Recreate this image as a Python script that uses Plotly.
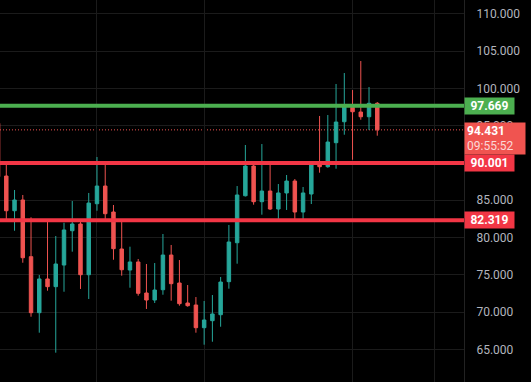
import plotly.graph_objects as go

# ---- data ----
idx = list(range(-1, 46))
opens = [95.31, 88.24, 83.59, 85.03, 77.43, 69.92, 74.44, 73.41, 76.31, 80.91, 81.81,
         75.01, 84.53, 86.90, 83.42, 78.46, 75.64, 76.72, 72.56, 71.62, 73.00,
         77.65, 73.90, 71.22, 70.95, 67.91, 68.85, 69.65, 74.08, 79.30, 85.60,
         89.58, 84.80, 86.23, 83.82, 85.97, 87.57, 83.42, 85.83, 89.95, 89.49,
         92.71, 95.52, 97.45, 96.82, 96.19, 97.99]
highs = [95.31, 89.95, 86.37, 85.70, 82.71, 74.97, 82.48, 80.20, 81.98, 84.89, 82.35,
         85.97, 90.79, 89.95, 84.36, 82.25, 78.77, 77.12, 76.45, 76.58, 80.47,
         79.00, 76.98, 73.63, 72.02, 71.49, 72.29, 74.71, 81.68, 86.90, 92.40,
         89.95, 92.53, 89.81, 87.17, 88.38, 87.84, 86.77, 90.03, 96.29, 96.42,
         100.58, 102.05, 99.77, 103.66, 100.17, 98.16]
lows = [88.15, 82.35, 80.91, 76.62, 69.38, 67.24, 72.87, 64.56, 72.73, 78.10, 73.10,
        71.76, 83.59, 82.44, 77.02, 74.88, 73.27, 72.20, 70.42, 71.22, 72.33,
        71.53, 70.86, 70.72, 67.24, 65.63, 66.03, 68.04, 73.14, 76.49, 85.50,
        84.40, 83.06, 83.69, 82.08, 83.69, 82.48, 82.48, 84.49, 88.69, 89.36,
        89.22, 93.78, 90.43, 95.79, 94.41, 93.65]
closes = [88.15, 83.59, 85.03, 77.29, 69.92, 74.44, 73.41, 76.45, 81.01, 81.81, 75.01,
          84.62, 86.90, 83.19, 78.50, 75.68, 76.72, 72.52, 71.62, 72.96, 77.65,
          73.81, 71.13, 70.86, 67.91, 68.94, 69.75, 74.03, 79.40, 85.70, 89.58,
          84.80, 86.23, 83.82, 85.97, 87.57, 83.42, 85.97, 89.85, 89.49, 92.80,
          95.48, 97.53, 96.86, 96.19, 97.99, 94.431]

support_levels = [90.001, 82.319]
resistance_level = 97.669
last_price = 94.431
countdown = "09:55:52"
y_ticks = [65, 70, 75, 80, 85, 90, 95, 100, 105, 110]
y_tick_text = ["65.000", "70.000", "75.000", "80.000", "85.000", "90.000",
               "95.000", "100.000", "105.000", "110.000"]
time_grid_idx = [11, 24, 42, 52]

UP = "#26a69a"
DOWN = "#ef5350"
RED_LINE = "#f23645"
GREEN_LINE = "#4caf50"
GRID = "#1b1b1b"

fig = go.Figure()
fig.add_trace(go.Candlestick(
    x=idx, open=opens, high=highs, low=lows, close=closes,
    increasing=dict(line=dict(color=UP, width=1), fillcolor=UP),
    decreasing=dict(line=dict(color=DOWN, width=1), fillcolor=DOWN),
    whiskerwidth=0, hoverinfo="skip", showlegend=False,
))

shapes = []
shapes.append(dict(type="line", xref="paper", x0=0, x1=1, yref="y",
                   y0=last_price, y1=last_price,
                   line=dict(color=DOWN, width=1, dash="1px,2px"), layer="below"))
shapes.append(dict(type="line", xref="paper", x0=0, x1=1, yref="y",
                   y0=resistance_level, y1=resistance_level,
                   line=dict(color=GREEN_LINE, width=4)))
for lv in support_levels:
    shapes.append(dict(type="line", xref="paper", x0=0, x1=1, yref="y",
                       y0=lv, y1=lv, line=dict(color=RED_LINE, width=4)))

annotations = []
def level_label(v, color):
    return dict(xref="paper", x=1, xanchor="left", yref="y", y=v, yanchor="middle",
                text="<b>%.3f</b>" % v, showarrow=False, bgcolor=color,
                font=dict(family="Roboto", size=12, color="white"),
                width=46, height=13, borderpad=1.5, align="center")

annotations.append(level_label(resistance_level, GREEN_LINE))
for lv in support_levels:
    annotations.append(level_label(lv, RED_LINE))
annotations.append(dict(
    xref="paper", x=1, xanchor="left", yref="y", y=last_price, yanchor="top", yshift=8,
    text="<b>%.3f</b><br><span style='color:rgba(255,255,255,0.78)'>%s</span>" % (last_price, countdown),
    showarrow=False, bgcolor="#f05450", align="left",
    font=dict(family="Roboto", size=12, color="white"),
    width=56, height=27, borderpad=2,
))

fig.update_layout(
    width=531, height=382,
    margin=dict(l=0, r=67, t=0, b=0),
    paper_bgcolor="#000000", plot_bgcolor="#000000",
    shapes=shapes, annotations=annotations,
    boxgap=0.4,
    xaxis=dict(range=[-0.764, 55.52], showticklabels=False, rangeslider=dict(visible=False),
               tickmode="array", tickvals=time_grid_idx, showgrid=True, gridcolor=GRID,
               gridwidth=1, zeroline=False, ticks="", showline=False, fixedrange=True),
    yaxis=dict(range=[60.63, 111.84], side="right", tickmode="array",
               tickvals=y_ticks, ticktext=y_tick_text, showgrid=True, gridcolor=GRID,
               gridwidth=1, zeroline=False, ticks="", showline=True, linecolor="#222222",
               linewidth=1, ticklabelstandoff=9,
               tickfont=dict(family="Roboto", size=12, color="#b2b5be")),
    hovermode=False,
)

fig.write_html("out.html")
